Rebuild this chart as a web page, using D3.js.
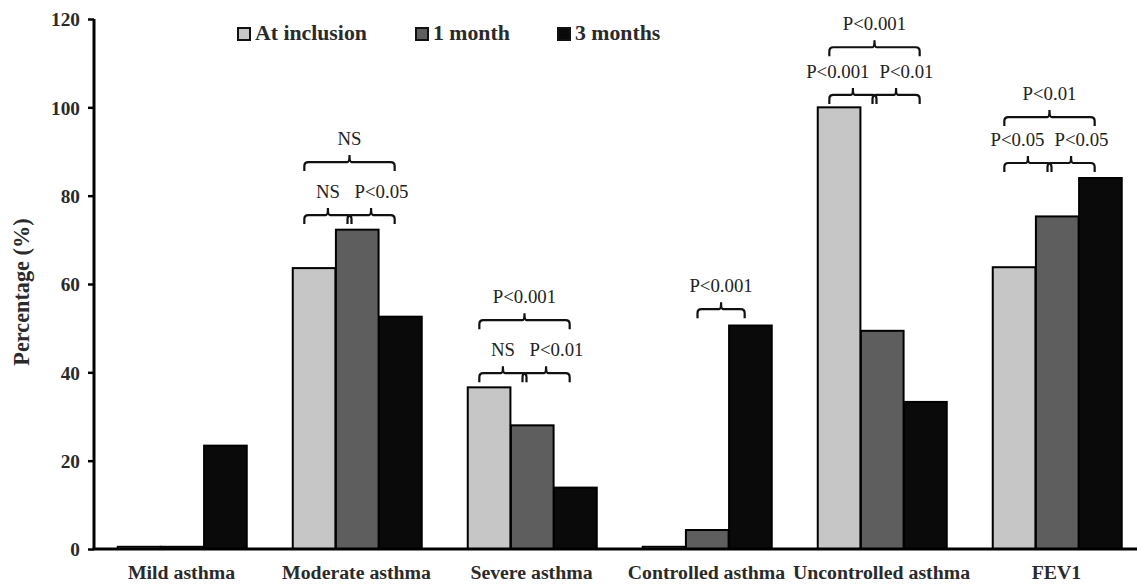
<!DOCTYPE html>
<html>
<head>
<meta charset="utf-8">
<script src="https://cdn.jsdelivr.net/npm/d3@7"></script>
<style>
  html, body { margin: 0; padding: 0; background: #fff; }
  svg { display: block; }
</style>
</head>
<body>
<svg id="chart" width="1137" height="584"></svg>
<script>
// ---------- data ----------
const categories = ["Mild asthma", "Moderate asthma", "Severe asthma", "Controlled asthma", "Uncontrolled asthma", "FEV1"];
const seriesNames = ["At inclusion", "1 month", "3 months"];
const atInclusion = [0.5, 63.6, 36.6, 0.5, 100, 63.8];
const oneMonth   = [0.5, 72.3, 28.0, 4.3, 49.4, 75.3];
const threeMonths = [23.4, 52.6, 13.9, 50.6, 33.3, 84.0];
const yTicks = [0, 20, 40, 60, 80, 100, 120];
// significance brackets: category, from series index, to series index, level (data units), label
const bracketCats   = ["Moderate asthma", "Moderate asthma", "Moderate asthma", "Severe asthma", "Severe asthma", "Severe asthma", "Controlled asthma", "Uncontrolled asthma", "Uncontrolled asthma", "Uncontrolled asthma", "FEV1", "FEV1", "FEV1"];
const bracketFrom   = [0, 1, 0, 0, 1, 0, 1, 0, 1, 0, 0, 1, 0];
const bracketTo     = [1, 2, 2, 1, 2, 2, 2, 1, 2, 2, 1, 2, 2];
const bracketLevel  = [75.6, 75.6, 87.6, 39.8, 39.8, 51.8, 54.3, 102.8, 102.8, 113.6, 87.4, 87.4, 97.8];
const bracketLabels = ["NS", "P<0.05", "NS", "NS", "P<0.01", "P<0.001", "P<0.001", "P<0.001", "P<0.01", "P<0.001", "P<0.05", "P<0.05", "P<0.01"];

// ---------- font detection ----------
const ctx = document.createElement("canvas").getContext("2d");
function available(name) {
  const s = "mmmmmmmmmmlli WWW 0123456789 Percentage";
  for (const base of ["monospace", "sans-serif"]) {
    ctx.font = `72px ${base}`;
    const w0 = ctx.measureText(s).width;
    ctx.font = `72px "${name}", ${base}`;
    if (Math.abs(ctx.measureText(s).width - w0) > 0.5) return true;
  }
  return false;
}
const candidates = ["Liberation Serif", "Times New Roman", "Tinos", "Nimbus Roman", "DejaVu Serif", "Noto Serif"];
const chosen = candidates.find(available);
const FONT = chosen ? `"${chosen}", serif` : "serif";
ctx.font = `bold 20px ${FONT}`;
const scale = chosen ? Math.min(1, 149 / ctx.measureText("Moderate asthma").width) : 1;
const fs = v => v * scale;

// ---------- layout ----------
const svg = d3.select("#chart");
const colors = ["#c6c6c6", "#5e5e5e", "#0a0a0a"];
const series = [atInclusion, oneMonth, threeMonths];

const x0 = d3.scaleBand().domain(categories).range([94, 1144]).paddingInner(0.26).paddingOuter(0.13);
const x1 = d3.scaleBand().domain(d3.range(seriesNames.length)).range([0, x0.bandwidth()]);
const y = d3.scaleLinear().domain([0, 120]).range([549, 19]);

// bars
const rows = categories.map((c, i) => ({ cat: c, vals: series.map(s => s[i]) }));
const groups = svg.append("g").selectAll("g").data(rows).join("g")
  .attr("transform", d => `translate(${x0(d.cat)},0)`);
groups.selectAll("rect").data(d => d.vals.map((v, k) => ({ v, k }))).join("rect")
  .attr("x", d => x1(d.k) + 1)
  .attr("width", x1.bandwidth() - 0.5)
  .attr("y", d => y(d.v))
  .attr("height", d => y(0) - y(d.v))
  .attr("fill", d => colors[d.k])
  .attr("stroke", "#000")
  .attr("stroke-width", 2);

// y axis
const yAxis = d3.axisLeft(y).tickValues(yTicks).tickSize(6).tickPadding(8);
const gy = svg.append("g").attr("transform", "translate(94,0)").call(yAxis);
gy.select(".domain").attr("stroke", "#000").attr("stroke-width", 3).attr("d", `M0,${y(120)}V${y(0)}`);
gy.selectAll(".tick line").attr("stroke", "#000").attr("stroke-width", 2.5);
gy.selectAll(".tick text").style("font-family", FONT).style("font-size", fs(19.5) + "px")
  .style("font-weight", "bold").attr("fill", "#2a2a2a").attr("dy", "0.35em");

// x axis
const xAxis = d3.axisBottom(x0).tickSize(0).tickPadding(16);
const gx = svg.append("g").attr("transform", `translate(0,${y(0)})`).call(xAxis);
gx.select(".domain").attr("stroke", "#000").attr("stroke-width", 3).attr("d", `M92.5,0H1137`);
gx.selectAll(".tick text").style("font-family", FONT).style("font-size", fs(20) + "px")
  .style("font-weight", "bold").attr("fill", "#2a2a2a").attr("dy", "0.71em");

// y title
svg.append("text")
  .attr("transform", `translate(29,${(y(0) + y(120)) / 2 + 8}) rotate(-90)`)
  .attr("text-anchor", "middle").style("font-family", FONT)
  .style("font-size", fs(22.5) + "px").style("font-weight", "bold").attr("fill", "#2a2a2a")
  .text("Percentage (%)");

// brackets
const braceH = 9, tickH = 7, r = 4;
const placed = [];
bracketLabels.forEach((lab, i) => {
  const c = bracketCats[i];
  const xa = x0(c) + x1(bracketFrom[i]) + x1.bandwidth() / 2 - 9;
  const xb = x0(c) + x1(bracketTo[i]) + x1.bandwidth() / 2 - 5;
  const yl = y(bracketLevel[i]);
  const xm = (xa + xb) / 2;
  const p = d3.path();
  p.moveTo(xa, yl + braceH);
  p.lineTo(xa, yl + r);
  p.quadraticCurveTo(xa, yl, xa + r, yl);
  p.lineTo(xm - 2, yl);
  p.quadraticCurveTo(xm, yl, xm, yl - tickH);
  p.quadraticCurveTo(xm, yl, xm + 2, yl);
  p.lineTo(xb - r, yl);
  p.quadraticCurveTo(xb, yl, xb, yl + r);
  p.lineTo(xb, yl + braceH);
  svg.append("path").attr("d", p.toString()).attr("fill", "none")
    .attr("stroke", "#111").attr("stroke-width", 2.2);
  const t = svg.append("text").attr("x", xm).attr("y", yl - 17)
    .attr("text-anchor", "middle").style("font-family", FONT).style("font-size", fs(19) + "px").attr("fill", "#222")
    .text(lab);
  placed.push({ i, c, level: bracketLevel[i], xa, xb, xm, t });
});
// side-by-side labels on the same level: push them apart around the shared joint
const margin = 5;
placed.forEach(a => {
  const partner = placed.find(b => b !== a && b.c === a.c && b.level === a.level);
  if (!partner) return;
  const w = a.t.node().getComputedTextLength();
  if (a.xm < partner.xm) {
    const joint = (a.xb + partner.xa) / 2;
    const cx = Math.min(a.xm, joint - margin - w / 2);
    a.t.attr("x", cx);
  } else {
    const joint = (partner.xb + a.xa) / 2;
    const cx = Math.max(a.xm, joint + margin + w / 2);
    a.t.attr("x", cx);
  }
});

// legend
const legendX = [238, 416, 558];
const lg = svg.append("g");
seriesNames.forEach((n, k) => {
  lg.append("rect").attr("x", legendX[k]).attr("y", 28).attr("width", 12).attr("height", 12)
    .attr("fill", colors[k]).attr("stroke", "#111").attr("stroke-width", 2);
  lg.append("text").attr("x", legendX[k] + 17).attr("y", 40).style("font-family", FONT)
    .style("font-size", fs(22) + "px").style("font-weight", "bold").attr("fill", "#2a2a2a").text(n);
});
</script>
</body>
</html>
